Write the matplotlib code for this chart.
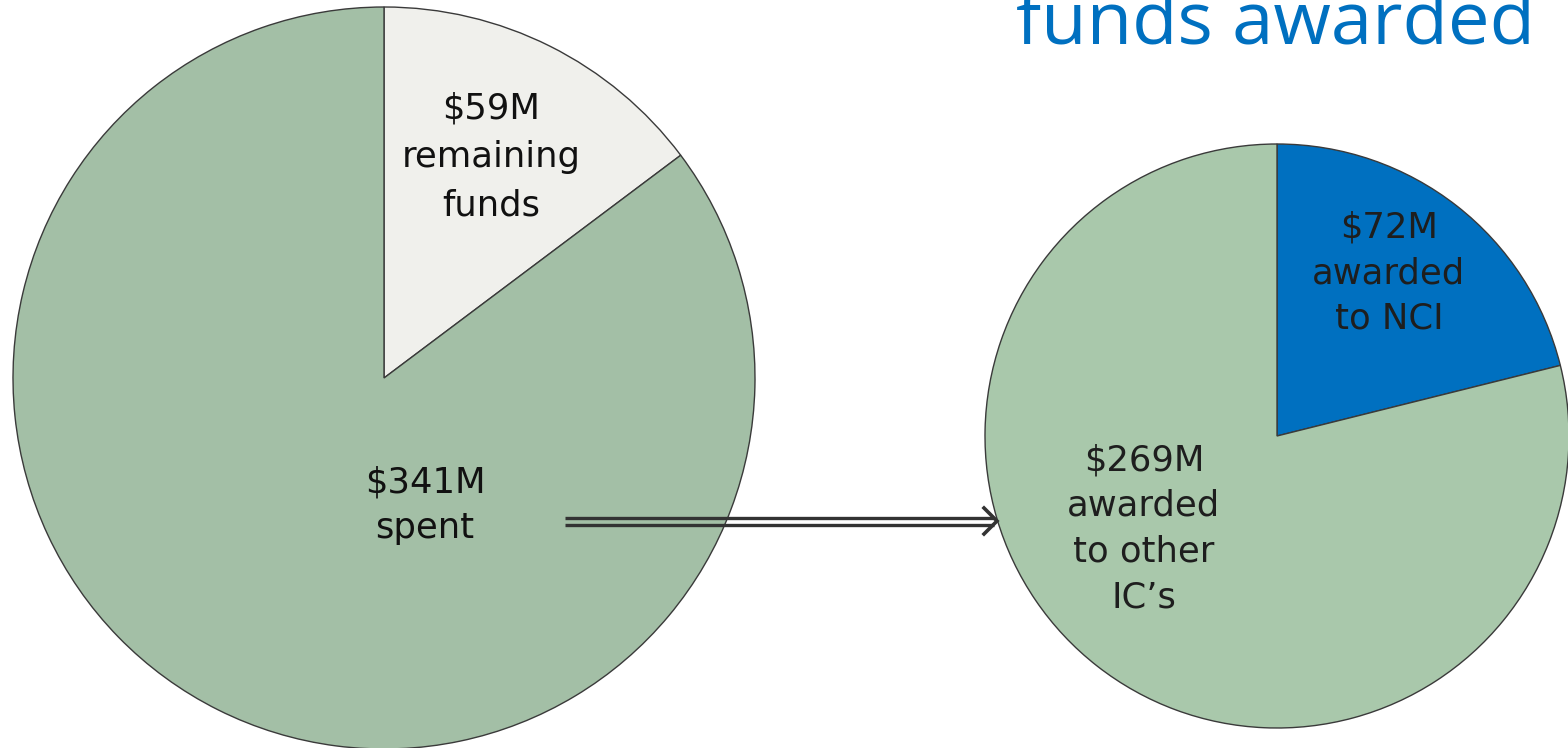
import matplotlib
matplotlib.use("Agg")
import matplotlib.pyplot as plt

# Data
left_labels = ["$59M\nremaining\nfunds", "$341M\nspent"]
left_values = [59, 341]
left_colors = ["#F0F0EC", "#A3BFA6"]

right_labels = ["$72M\nawarded\nto NCI", "$269M\nawarded\nto other\nIC\u2019s"]
right_values = [72, 269]
right_colors = ["#0070C0", "#A9C8AB"]

title_text = "funds awarded"

W, H = 1568, 748
fig = plt.figure(figsize=(W / 100, H / 100), dpi=100)
ax = fig.add_axes([0, 0, 1, 1])

FONT = "DejaVu Sans"

# Left pie
ax.pie(left_values, colors=left_colors, startangle=90, counterclock=False,
       center=(384, H - 378), radius=371, frame=True,
       wedgeprops=dict(edgecolor="#3a3a3a", linewidth=1.0))

# Right pie
ax.pie(right_values, colors=right_colors, startangle=90, counterclock=False,
       center=(1277, H - 436), radius=292, frame=True,
       wedgeprops=dict(edgecolor="#3a3a3a", linewidth=1.0))
ax.set_xlim(0, W)
ax.set_ylim(0, H)
ax.set_aspect("auto")
ax.axis("off")


def put_label(text, x, baselines, size, color):
    for line, yb in zip(text.split("\n"), baselines):
        ax.text(x, H - yb, line, ha="center", va="baseline",
                fontsize=size, family=FONT, color=color)


put_label(left_labels[0], 491, [118, 167, 215], 25.5, "#111111")
put_label(left_labels[1], 425, [493, 538], 25.5, "#111111")
put_label(right_labels[0], 1389, [237, 283, 328], 25.5, "#1e1e1e")
put_label(right_labels[1], 1144, [470, 516, 562, 608], 25.5, "#1e1e1e")

# Title (partially cut off at top, as in the reference)
ax.text(1535, H - 43, title_text, ha="right", va="baseline", fontsize=53.5,
        family="Open Sans", color="#0070C0")

# Double-line arrow
acol = "#333333"
for dy in (-3.5, 3.5):
    ax.plot([565, 994], [H - 521 + dy, H - 521 + dy], color=acol, lw=2.4,
            solid_capstyle="butt")
ax.plot([984, 997, 984], [H - 508, H - 521, H - 534], color=acol, lw=2.6,
        solid_joinstyle="miter")

fig.savefig("out.png", dpi=100)
